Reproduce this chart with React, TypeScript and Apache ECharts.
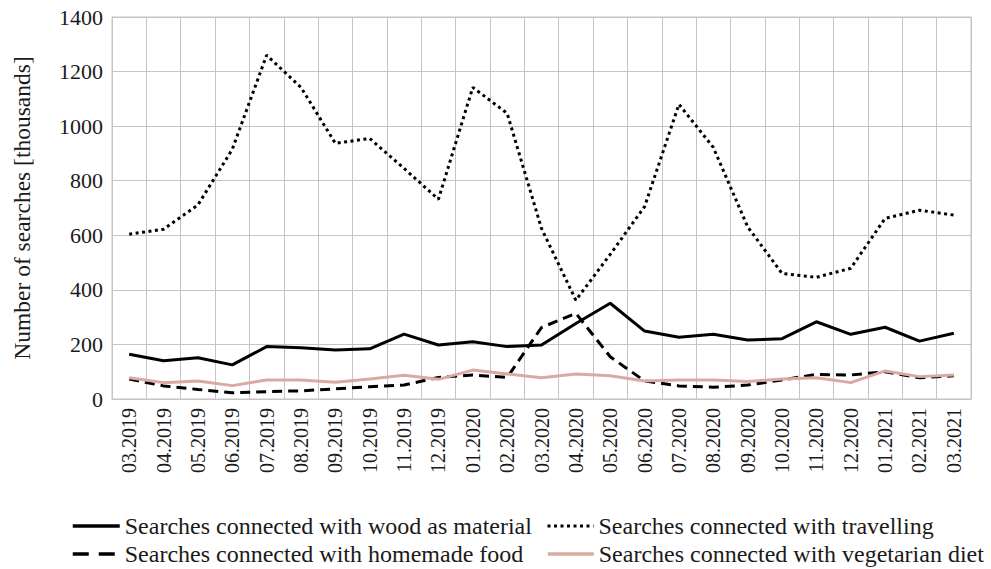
import React, { useEffect, useRef } from "react";
import * as echarts from "echarts";

const categories = [
  "03.2019", "04.2019", "05.2019", "06.2019", "07.2019", "08.2019", "09.2019",
  "10.2019", "11.2019", "12.2019", "01.2020", "02.2020", "03.2020", "04.2020",
  "05.2020", "06.2020", "07.2020", "08.2020", "09.2020", "10.2020", "11.2020",
  "12.2020", "01.2021", "02.2021", "03.2021",
];

const woodValues = [164, 140, 151, 125, 192, 188, 180, 184, 238, 198, 210, 192, 198, 277, 351, 249, 226, 237, 216, 221, 283, 237, 263, 212, 241];
const travellingValues = [604, 622, 711, 915, 1260, 1142, 937, 955, 845, 732, 1142, 1047, 625, 362, 530, 705, 1080, 922, 631, 460, 446, 479, 662, 692, 674];
const homemadeValues = [73, 48, 35, 23, 27, 30, 37, 45, 51, 79, 88, 79, 262, 314, 155, 66, 48, 43, 51, 70, 90, 88, 100, 78, 85];
const vegetarianValues = [78, 60, 66, 49, 70, 70, 61, 73, 87, 72, 106, 92, 78, 92, 85, 66, 70, 70, 64, 73, 78, 60, 103, 82, 88];

const yTicks = [0, 200, 400, 600, 800, 1000, 1200, 1400];

const seriesNames = [
  "Searches connected with wood as material",
  "Searches connected with travelling",
  "Searches connected with homemade food",
  "Searches connected with vegetarian diet",
];

const FONT = "Liberation Serif";
const GRID = "#c4c4c4";
const TEXT = "#1a1a1a";
const PINK = "#d9aaa2";

export default function App() {
  const ref = useRef<HTMLDivElement>(null);
  useEffect(() => {
    if (!ref.current) return;
    const chart = echarts.init(ref.current, null, { renderer: "svg" });
    const legendBase = {
      orient: "horizontal",
      itemWidth: 47,
      itemHeight: 14,
      itemGap: 0,
      itemStyle: { opacity: 0 },
      textStyle: { fontFamily: FONT, fontSize: 24, color: TEXT, lineHeight: 24 },
      padding: 0,
    };
    chart.setOption({
      animation: false,
      backgroundColor: "#fff",
      textStyle: { fontFamily: FONT },
      grid: {
        left: 112,
        right: 20,
        top: 17,
        bottom: 170,
        show: true,
        borderColor: GRID,
        borderWidth: 1,
      },
      legend: [
        {
          ...legendBase,
          left: 71,
          top: 514,
          data: [{ name: seriesNames[0], lineStyle: { width: 3.5, type: "solid", color: "#000" } }],
        },
        {
          ...legendBase,
          left: 546,
          itemWidth: 46,
          top: 514,
          data: [{ name: seriesNames[1], lineStyle: { width: 3, type: [3, 3.5], color: "#000" } }],
        },
        {
          ...legendBase,
          left: 71,
          top: 542,
          data: [{ name: seriesNames[2], lineStyle: { width: 3.5, type: [16, 10], color: "#000" } }],
        },
        {
          ...legendBase,
          left: 546,
          itemWidth: 46,
          top: 542,
          data: [{ name: seriesNames[3], lineStyle: { width: 3.5, type: "solid", color: PINK } }],
        },
      ],
      xAxis: {
        type: "category",
        data: categories,
        boundaryGap: true,
        axisLine: { lineStyle: { color: GRID, width: 1 } },
        axisTick: { show: false },
        splitLine: { show: true, lineStyle: { color: GRID, width: 1 } },
        axisLabel: {
          rotate: 90,
          interval: 0,
          margin: 9,
          fontFamily: FONT,
          fontSize: 20,
          color: TEXT,
        },
      },
      yAxis: {
        type: "value",
        min: yTicks[0],
        max: yTicks[yTicks.length - 1],
        interval: 200,
        name: "Number of searches [thousands]",
        nameLocation: "middle",
        nameGap: 78,
        nameTextStyle: { fontFamily: FONT, fontSize: 23.5, color: TEXT },
        axisLine: { show: true, lineStyle: { color: GRID, width: 1 } },
        axisTick: { show: false },
        splitLine: { show: true, lineStyle: { color: GRID, width: 1 } },
        axisLabel: {
          margin: 9,
          fontFamily: FONT,
          fontSize: 22,
          color: TEXT,
          formatter: (v: number) => String(v),
        },
      },
      series: [
        {
          name: seriesNames[0],
          type: "line",
          data: woodValues,
          symbol: "none",
          color: "#000",
          lineStyle: { color: "#000", width: 3, type: "solid" },
          z: 4,
        },
        {
          name: seriesNames[1],
          type: "line",
          data: travellingValues,
          symbol: "none",
          color: "#000",
          lineStyle: { color: "#000", width: 3, type: [3, 3.5] },
          z: 3,
        },
        {
          name: seriesNames[2],
          type: "line",
          data: homemadeValues,
          symbol: "none",
          color: "#000",
          lineStyle: { color: "#000", width: 3, type: [10, 6] },
          z: 2,
        },
        {
          name: seriesNames[3],
          type: "line",
          data: vegetarianValues,
          symbol: "none",
          color: PINK,
          lineStyle: { color: PINK, width: 3, type: "solid" },
          z: 3,
        },
      ],
    });
    return () => chart.dispose();
  }, []);
  return (
    <div
      ref={ref}
      style={{ position: "fixed", left: 0, top: 0, width: 991, height: 569 }}
    />
  );
}
